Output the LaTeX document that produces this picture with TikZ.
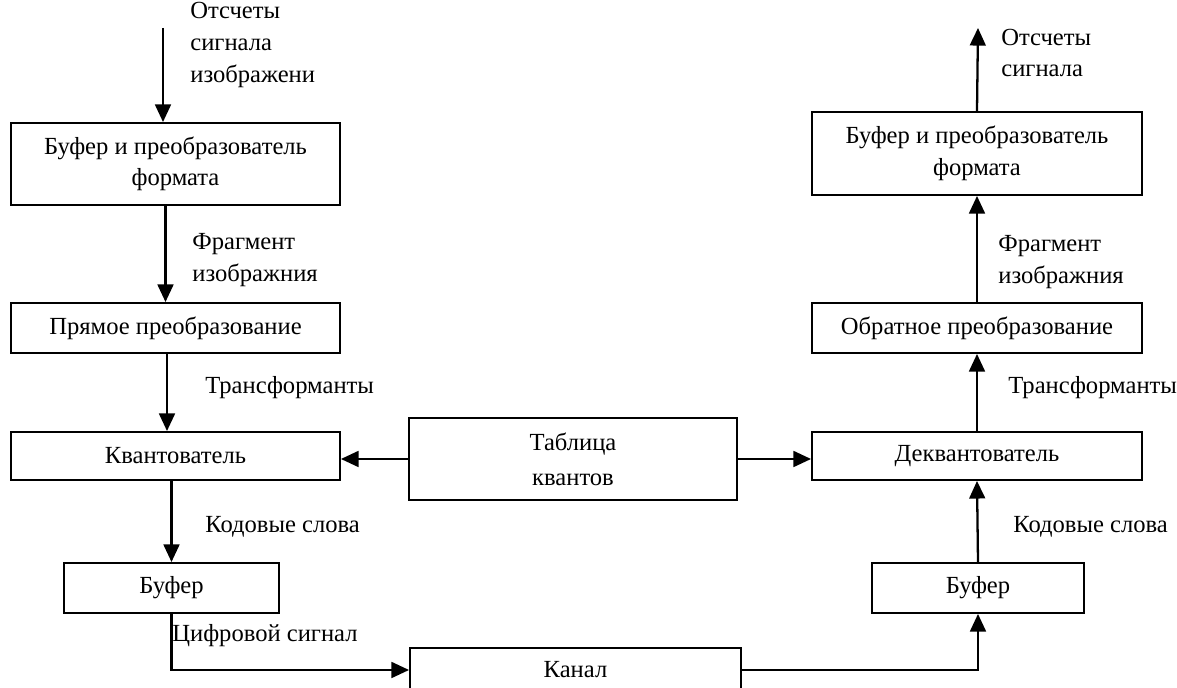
\documentclass[tikz,border=0pt]{standalone}
\usepackage{fontspec}
\setmainfont{Liberation Serif}
\usetikzlibrary{arrows.meta}

\begin{document}
\begin{tikzpicture}[x=0.02cm, y=-0.02cm,
    font=\fontsize{14}{18}\selectfont,
    blk/.style 2 args={draw, line width=1.1pt, minimum width=#1*0.02cm, minimum height=#2*0.02cm, align=center, inner sep=0pt},
    lbl/.style={anchor=west, align=left, inner sep=0pt},
    arr/.style={line width=1.3pt, -{Triangle[length=10pt, width=9pt]}}]
    \useasboundingbox (0,0) rectangle (1177,688);
    \node[blk={329}{82}] (fmtL) at (175.5,164) {Буфер и преобразователь\\формата};
    \node[blk={329}{50}] (fwd) at (175.5,328) {Прямое преобразование};
    \node[blk={329}{48}] (quant) at (175.5,456) {Квантователь};
    \node[blk={215}{50}] (bufL) at (171.5,588) {Буфер};
    \node[blk={328}{82}] (tab) at (573,459) {Таблица\\[2pt]квантов};
    \node[blk={331}{44}] (chan) at (575.5,670) {Канал};
    \node[blk={330}{83}] (fmtR) at (977,153.5) {Буфер и преобразователь\\формата};
    \node[blk={330}{50}] (inv) at (977,328) {Обратное преобразование};
    \node[blk={330}{48}] (dequant) at (977,456) {Деквантователь};
    \node[blk={212}{50}] (bufR) at (978,588) {Буфер};
    \coordinate (src) at (163,28);
    \coordinate (dst) at (978,28);
    \draw[arr] (src) -- (src |- fmtL.north);
    \draw[arr] ([xshift=-0.2cm]fmtL.south) -- ([xshift=-0.2cm]fwd.north);
    \draw[arr] ([xshift=-0.17cm]fwd.south) -- ([xshift=-0.17cm]quant.north);
    \draw[arr] (quant.south -| bufL) -- (bufL.north);
    \draw[arr] (bufL.south) |- (chan.west);
    \draw[arr] (tab.west) -- (tab.west -| quant.east);
    \draw[arr] (tab.east) -- (tab.east -| dequant.west);
    \draw[arr] (chan.east) -| (bufR.south);
    \draw[arr] (bufR.north) -- (dequant.south);
    \draw[arr] (dequant.north) -- (inv.south);
    \draw[arr] (inv.north) -- (fmtR.south);
    \draw[arr] (fmtR.north) -- (dst);
    \node[lbl] (inTxt) at (190,45) {Отсчеты\\сигнала\\изображени};
    \node[lbl] (fragL) at (192,260) {Фрагмент\\изображния};
    \node[lbl] (trL) at (205,388) {Трансформанты};
    \node[lbl] (cwL) at (205,527) {Кодовые слова};
    \node[lbl] (digL) at (172,636) {Цифровой сигнал};
    \node[lbl] (outTxt) at (1001,53) {Отсчеты\\сигнала};
    \node[lbl] (fragR) at (998,262) {Фрагмент\\изображния};
    \node[lbl] (trR) at (1008,388) {Трансформанты};
    \node[lbl] (cwR) at (1013,527) {Кодовые слова};
\end{tikzpicture}
\end{document}
